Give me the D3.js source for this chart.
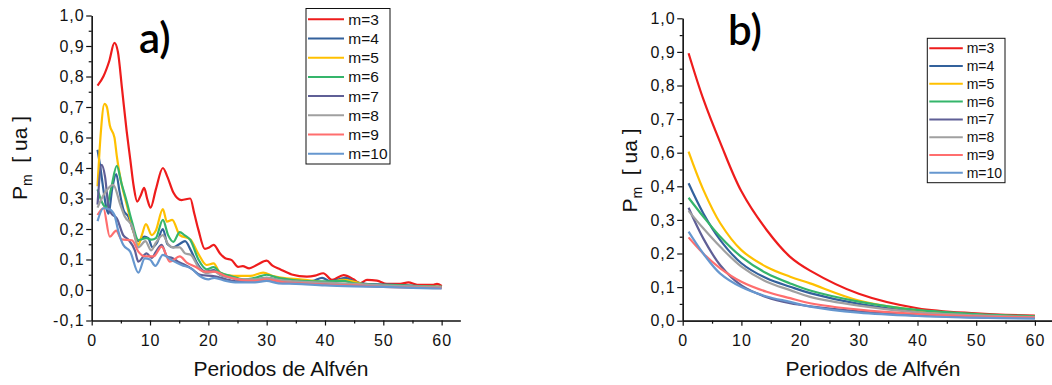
<!DOCTYPE html>
<html>
<head>
<meta charset="utf-8">
<script src="https://cdn.jsdelivr.net/npm/d3@7"></script>
<style>
  body { margin: 0; background: #fff; }
  svg { display: block; font-family: "Liberation Sans", Arial, sans-serif; }
</style>
</head>
<body>
<div id="chart"></div>
<script>
// series names + colours (shared by both panels)
const seriesNames = ["m=3", "m=4", "m=5", "m=6", "m=7", "m=8", "m=9", "m=10"];
const seriesColors = ["#ee1c1c", "#33619c", "#ffc000", "#35b56b", "#5f5f96", "#a0a0a0", "#ff6e6e", "#6697cf"];

// tick labels as printed on the figure (note: 0,5 is skipped in the original)
const aYTicks = [-0.1, 0, 0.1, 0.2, 0.3, 0.4, 0.5, 0.6, 0.7, 0.8, 0.9];
const aYLabels = ["-0,1", "0,0", "0,1", "0,2", "0,3", "0,4", "0,6", "0,7", "0,8", "0,9", "1,0"];
const bYTicks = [0, 0.1, 0.2, 0.3, 0.4, 0.5, 0.6, 0.7, 0.8, 0.9];
const bYLabels = ["0,0", "0,1", "0,2", "0,3", "0,4", "0,6", "0,7", "0,8", "0,9", "1,0"];
const xTicks = [0, 10, 20, 30, 40, 50, 60];

// panel a) — [periodo, P_m]
const a_m3 = [[1,0.67],[2,0.70],[3,0.75],[3.9,0.81],[4.5,0.78],[5.2,0.66],[6,0.52],[6.6,0.43],[7.2,0.34],[7.8,0.29],[8.4,0.31],[9,0.335],[9.5,0.30],[10.1,0.27],[11,0.33],[12.2,0.40],[13,0.37],[14,0.32],[15.4,0.295],[16.9,0.30],[17.6,0.25],[18.3,0.197],[19.4,0.135],[20.2,0.14],[20.9,0.148],[22,0.12],[22.9,0.104],[24,0.098],[25.1,0.076],[25.9,0.078],[27,0.071],[28.3,0.082],[30,0.096],[31,0.08],[32.3,0.068],[34.3,0.051],[36.9,0.044],[38.3,0.047],[39.7,0.055],[41.2,0.033],[43.2,0.049],[44.9,0.035],[46,0.022],[47.2,0.033],[48.9,0.031],[50.6,0.02],[52.9,0.02],[54.3,0.025],[55.8,0.017],[58.6,0.017],[59.2,0.02],[60,0.013]];
const a_m4 = [[1,0.46],[1.5,0.40],[2,0.33],[2.5,0.27],[2.9,0.25],[3.5,0.33],[4.2,0.38],[4.8,0.32],[5.5,0.26],[6.3,0.24],[7,0.2],[8,0.16],[9,0.175],[9.7,0.17],[10.4,0.14],[11.2,0.155],[12.2,0.20],[13,0.15],[14,0.14],[15,0.15],[16,0.16],[17,0.13],[18,0.09],[19.5,0.06],[21,0.065],[22,0.05],[24,0.04],[26,0.03],[28,0.033],[30,0.04],[32,0.033],[34,0.03],[36,0.027],[38,0.03],[39.5,0.04],[41,0.028],[43.5,0.04],[45,0.028],[47,0.02],[50,0.018],[53,0.016],[56,0.013],[60,0.01]];
const a_m5 = [[1,0.34],[1.5,0.50],[2.2,0.61],[2.6,0.60],[3.1,0.54],[3.9,0.50],[4.3,0.44],[4.7,0.39],[5.1,0.35],[6,0.28],[7.1,0.197],[8,0.148],[8.6,0.18],[9.3,0.216],[10.3,0.18],[11,0.195],[12.2,0.265],[12.9,0.224],[13.8,0.23],[15.1,0.18],[16.9,0.166],[18.3,0.118],[19.7,0.082],[20.9,0.087],[22,0.057],[24.3,0.046],[27.2,0.046],[29.4,0.057],[31.1,0.046],[33.4,0.038],[35.7,0.035],[38,0.03],[40.3,0.024],[43.2,0.033],[44.9,0.028],[47.2,0.017],[50.6,0.015],[54.1,0.013],[60,0.01]];
const a_m6 = [[1,0.33],[1.7,0.29],[2.5,0.27],[3.3,0.33],[4.3,0.407],[5.1,0.35],[6,0.29],[6.9,0.224],[8,0.164],[9.4,0.17],[10.3,0.165],[11,0.17],[12.2,0.23],[13.1,0.18],[14,0.158],[15.1,0.19],[15.9,0.18],[16.9,0.164],[18.3,0.10],[19.7,0.068],[20.9,0.075],[22,0.058],[24,0.045],[26,0.035],[28,0.04],[30,0.05],[32,0.04],[34,0.034],[36,0.03],[40,0.028],[43,0.03],[45,0.022],[48,0.018],[52,0.016],[56,0.013],[60,0.01]];
const a_m7 = [[1,0.28],[1.7,0.41],[2.3,0.37],[2.9,0.27],[3.4,0.25],[4.3,0.235],[5.4,0.18],[6.3,0.165],[7.4,0.13],[8,0.093],[9.4,0.12],[10.3,0.105],[11,0.125],[12,0.148],[12.9,0.11],[13.8,0.105],[14.8,0.093],[16,0.082],[17.1,0.07],[18.6,0.05],[21.1,0.045],[23,0.035],[25,0.028],[28,0.028],[30,0.033],[33,0.025],[36,0.022],[40,0.02],[45,0.016],[50,0.012],[55,0.01],[60,0.008]];
const a_m8 = [[1,0.27],[2.3,0.32],[3.7,0.345],[4.9,0.28],[5.7,0.24],[6.9,0.21],[8,0.14],[9.2,0.16],[10.2,0.13],[11,0.155],[12.2,0.18],[13.1,0.15],[14,0.14],[15.1,0.14],[16,0.12],[17,0.115],[18.3,0.075],[19.7,0.055],[21,0.06],[22,0.05],[24,0.04],[26,0.035],[28,0.035],[30,0.04],[32,0.033],[35,0.028],[40,0.024],[45,0.02],[50,0.015],[55,0.012],[60,0.01]];
const a_m9 = [[1,0.246],[2,0.268],[3.1,0.175],[4.2,0.195],[5.1,0.166],[6.9,0.163],[8,0.126],[9.1,0.11],[10.6,0.11],[12,0.142],[13.4,0.093],[15.1,0.11],[16.3,0.09],[17.7,0.077],[19.4,0.06],[21.1,0.06],[23,0.045],[25,0.035],[28,0.03],[30,0.035],[33,0.025],[36,0.022],[40,0.018],[45,0.015],[50,0.01],[55,0.008],[60,0.006]];
const a_m10 = [[1,0.226],[2,0.268],[3.1,0.264],[3.9,0.246],[4.6,0.19],[5.4,0.148],[6.6,0.126],[8,0.057],[9.1,0.104],[10,0.1],[10.9,0.079],[12.2,0.115],[13.7,0.098],[15.4,0.082],[17.1,0.07],[18.6,0.045],[20,0.035],[21,0.04],[23,0.03],[25,0.025],[28,0.025],[30,0.03],[32,0.022],[35,0.02],[40,0.015],[45,0.012],[50,0.01],[55,0.007],[60,0.005]];

// panel b) — smooth decays, sampled at these periods
const bPeriods = [1, 3.5, 6.4, 10, 14.3, 18.3, 21.7, 30, 40, 50, 60];
const b_m3 = [0.796, 0.66, 0.53, 0.385, 0.27, 0.19, 0.149, 0.08, 0.037, 0.022, 0.015];
const b_m4 = [0.409, 0.32, 0.24, 0.171, 0.126, 0.101, 0.082, 0.05, 0.027, 0.017, 0.012];
const b_m5 = [0.503, 0.39, 0.29, 0.21, 0.16, 0.131, 0.111, 0.06, 0.031, 0.018, 0.012];
const b_m6 = [0.366, 0.31, 0.25, 0.19, 0.141, 0.111, 0.09, 0.057, 0.032, 0.02, 0.013];
const b_m7 = [0.336, 0.245, 0.165, 0.105, 0.07, 0.052, 0.043, 0.028, 0.016, 0.01, 0.008];
const b_m8 = [0.327, 0.275, 0.22, 0.161, 0.116, 0.091, 0.071, 0.045, 0.025, 0.016, 0.011];
const b_m9 = [0.248, 0.2, 0.156, 0.116, 0.086, 0.067, 0.052, 0.033, 0.02, 0.013, 0.01];
const b_m10 = [0.265, 0.2, 0.14, 0.1, 0.072, 0.056, 0.042, 0.024, 0.014, 0.009, 0.006];

const aSeries = [a_m3, a_m4, a_m5, a_m6, a_m7, a_m8, a_m9, a_m10];
const bSeries = [b_m3, b_m4, b_m5, b_m6, b_m7, b_m8, b_m9, b_m10]
  .map(vals => vals.map((v, i) => [bPeriods[i], v]));

const svg = d3.select("#chart").append("svg")
  .attr("width", 1052).attr("height", 385);
svg.append("rect").attr("width", 1052).attr("height", 385).attr("fill", "#fff");

function panel(o) {
  const g = svg.append("g");
  const x = d3.scaleLinear().domain(o.xDomain).range(o.xRange);
  const y = d3.scaleLinear().domain(o.yDomain).range(o.yRange);
  const y0 = o.yRange[0];

  const line = d3.line().x(d => x(d[0])).y(d => y(d[1])).curve(o.curve);
  o.series.forEach((s, i) => {
    g.append("path").datum(s)
      .attr("fill", "none")
      .attr("stroke", seriesColors[i])
      .attr("stroke-width", o.lw)
      .attr("stroke-linejoin", "round")
      .attr("d", line);
  });

  // x axis: major + minor ticks
  const xMinor = d3.range(5, 61, 10);
  g.append("g").attr("transform", `translate(0,${y0})`)
    .call(d3.axisBottom(x).tickValues(xMinor).tickSize(3).tickSizeOuter(0).tickFormat(""));
  const xa = g.append("g").attr("transform", `translate(0,${y0})`)
    .call(d3.axisBottom(x).tickValues(xTicks).tickSize(5).tickSizeOuter(0).tickPadding(9));

  // y axis
  const yMinor = o.yTicks.slice(1).map(v => v - 0.05);
  g.append("g").attr("transform", `translate(${o.xRange[0]},0)`)
    .call(d3.axisLeft(y).tickValues(yMinor).tickSize(3).tickSizeOuter(0).tickFormat(""));
  const ya = g.append("g").attr("transform", `translate(${o.xRange[0]},0)`)
    .call(d3.axisLeft(y).tickValues(o.yTicks).tickSize(5.5).tickSizeOuter(0).tickPadding(1.5)
      .tickFormat((d, i) => o.yLabels[i]));

  g.selectAll(".domain, .tick line").attr("stroke", "#111").attr("stroke-width", 1.2);
  [xa, ya].forEach(a => a.selectAll("text")
    .attr("font-size", 16).attr("fill", "#111")
    .style("font-family", "'Liberation Sans', Arial, sans-serif")
    .style("letter-spacing", "1px"));

  // axis titles
  g.append("text")
    .attr("x", o.xTitleX).attr("y", 376)
    .attr("text-anchor", "middle").attr("font-size", 21).attr("fill", "#111")
    .text("Periodos de Alfvén");
  const yt = g.append("text")
    .attr("transform", `translate(${o.yTitle[0]},${o.yTitle[1]}) rotate(-90)`)
    .attr("text-anchor", "middle").attr("font-size", 21).attr("fill", "#111");
  yt.append("tspan").text("P");
  yt.append("tspan").attr("font-size", 14).attr("dy", 5).text("m");
  yt.append("tspan").attr("dy", -5).text("\u00a0\u00a0[ ua ]");

  // panel letter
  g.append("text")
    .attr("x", o.letter[0]).attr("y", o.letter[1])
    .attr("font-size", 42).attr("fill", "#000")
    .style("font-family", "Lato, 'Open Sans', sans-serif")
    .style("font-weight", 600)
    .text(o.letterText);

  // legend
  const L = o.legend;
  const lg = g.append("g");
  lg.append("rect")
    .attr("x", L.x).attr("y", L.y).attr("width", L.w).attr("height", L.h)
    .attr("fill", "#fff").attr("stroke", "#111").attr("stroke-width", 1);
  seriesNames.forEach((name, i) => {
    const yy = L.y0 + i * L.step;
    lg.append("line")
      .attr("x1", L.x + 2).attr("x2", L.x + 2 + L.lineW)
      .attr("y1", yy).attr("y2", yy)
      .attr("stroke", seriesColors[i]).attr("stroke-width", 2);
    lg.append("text")
      .attr("x", L.textX).attr("y", yy + L.fs * 0.36)
      .attr("font-size", L.fs).attr("fill", "#111")
      .text(name);
  });
}

panel({
  series: aSeries, curve: d3.curveMonotoneX, lw: 2.2,
  xDomain: [0, 63.2], xRange: [91.7, 460.3],
  yDomain: [-0.1, 0.9], yRange: [320.5, 15.5],
  yTicks: aYTicks, yLabels: aYLabels,
  xTitleX: 281, yTitle: [27, 158],
  letter: [139, 53], letterText: "a)",
  legend: { x: 306, y: 8.5, w: 84, h: 155.5, y0: 19.3, step: 19.2, lineW: 36, textX: 348.3, fs: 15.5 }
});

panel({
  series: bSeries, curve: d3.curveCatmullRom.alpha(0.5), lw: 2.2,
  xDomain: [0, 63], xRange: [682.7, 1052.5],
  yDomain: [0, 0.9], yRange: [320.7, 18.3],
  yTicks: bYTicks, yLabels: bYLabels,
  xTitleX: 873, yTitle: [637, 170.5],
  letter: [728, 45], letterText: "b)",
  legend: { x: 927.3, y: 38.3, w: 77.7, h: 144.4, y0: 48.3, step: 17.77, lineW: 33.5, textX: 966.7, fs: 14 }
});
</script>
</body>
</html>
